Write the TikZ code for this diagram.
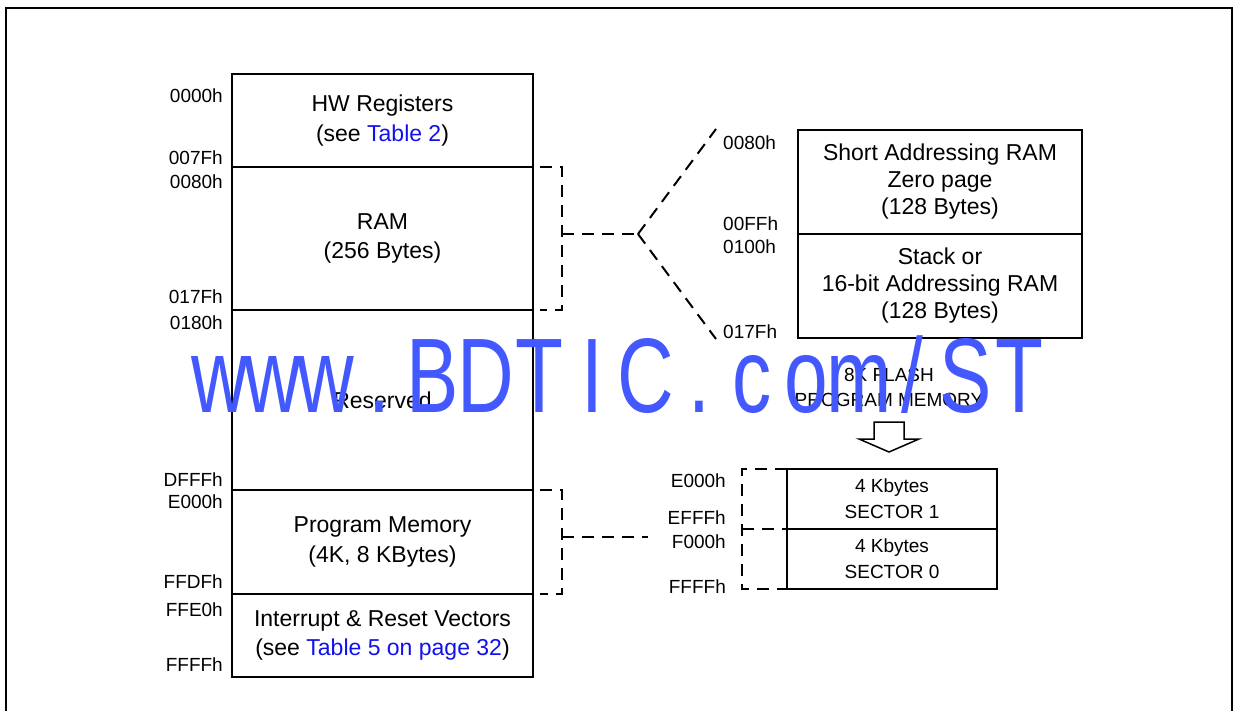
\documentclass[tikz,border=0pt]{standalone}
\usepackage{fontspec}
\setmainfont{Liberation Sans}
\newfontfamily\wmfont{Liberation Sans}
\definecolor{linkblue}{RGB}{17,17,238}
\definecolor{wmblue}{RGB}{68,88,255}
\begin{document}
\begin{tikzpicture}[x=1pt,y=-1pt,
  seg/.style={draw, line width=2.4pt, inner sep=0pt, outer sep=0pt, align=center,
    minimum width=301pt, font=\fontsize{23}{29.5}\selectfont},
  rseg/.style={draw, line width=2.4pt, inner sep=0pt, outer sep=0pt, align=center,
    minimum width=284pt, minimum height=104pt, font=\fontsize{23}{27}\selectfont},
  sseg/.style={draw, line width=2pt, inner sep=0pt, outer sep=0pt, align=center,
    minimum width=210pt, minimum height=60pt, font=\fontsize{19}{26}\selectfont},
  lbl/.style={inner sep=0pt, font=\fontsize{19}{22}\selectfont},
  dline/.style={line width=2pt, dash pattern=on 12pt off 8pt},
  wm/.style={inner sep=0pt, anchor=base, text=wmblue,
    font=\wmfont\fontsize{106}{106}\selectfont},
]
\useasboundingbox (0,0) rectangle (1235,711);
% frame
\draw[line width=2.5pt] (6,730) -- (6,8) -- (1232,8) -- (1232,730);

% main memory map
\node[seg, minimum height=93pt]  (hw)   at (382.5,120.5) {HW Registers\\ (see \textcolor{linkblue}{Table 2})};
\node[seg, minimum height=143pt] (ram)  at (382.5,238.5) {RAM\\(256 Bytes)};
\node[seg, minimum height=180pt] (res)  at (382.5,400)   {Reserved};
\node[seg, minimum height=104pt] (prog) at (382.5,542)   {Program Memory\\(4K, 8 KBytes)};
\node[seg, minimum height=83pt]  (vec)  at (382.5,635.5) {Interrupt \& Reset Vectors\\(see \textcolor{linkblue}{Table 5 on page 32})};

% left address labels
\node[lbl, anchor=east] (a0000) at (223,96)    {0000h};
\node[lbl, anchor=east] (a007F) at (223,158)   {007Fh};
\node[lbl, anchor=east] (a0080) at (223,181.5) {0080h};
\node[lbl, anchor=east] (a017F) at (223,297)   {017Fh};
\node[lbl, anchor=east] (a0180) at (223,322.5) {0180h};
\node[lbl, anchor=east] (aDFFF) at (223,480)   {DFFFh};
\node[lbl, anchor=east] (aE000) at (223,501.5) {E000h};
\node[lbl, anchor=east] (aFFDF) at (223,581.5) {FFDFh};
\node[lbl, anchor=east] (aFFE0) at (223,610)   {FFE0h};
\node[lbl, anchor=east] (aFFFF) at (223,665)   {FFFFh};

% RAM detail
\node[rseg] (zp)  at (940,182) {Short Addressing RAM\\Zero page\\(128 Bytes)};
\node[rseg] (stk) at (940,286) {Stack or\\16-bit Addressing RAM\\(128 Bytes)};
\node[lbl, anchor=west] (r0080) at (723,143)   {0080h};
\node[lbl, anchor=west] (r00FF) at (723,223.5) {00FFh};
\node[lbl, anchor=west] (r0100) at (723,246.5) {0100h};
\node[lbl, anchor=west] (r017F) at (723,331.5) {017Fh};

% flash detail
\node[lbl, align=center, font=\fontsize{19}{25}\selectfont] (flash) at (889,387) {8K FLASH\\PROGRAM MEMORY};
\draw[line width=1.5pt, fill=white] (874,422) -- (904,422) -- (904,439) -- (919,439)
  -- (889,452) -- (859,439) -- (874,439) -- cycle;
\node[sseg] (s1) at (892,499) {4 Kbytes\\SECTOR 1};
\node[sseg] (s0) at (892,559) {4 Kbytes\\SECTOR 0};
\node[lbl, anchor=east] (fE000) at (726,481)   {E000h};
\node[lbl, anchor=east] (fEFFF) at (726,518)   {EFFFh};
\node[lbl, anchor=east] (fF000) at (726,541.5) {F000h};
\node[lbl, anchor=east] (fFFFF) at (726,586.5) {FFFFh};

% dashed brackets
\coordinate (ramfork) at (562,234);
\coordinate (fork) at (638,234);
\coordinate (forkup) at (716,129);
\coordinate (forkdn) at (716,339);
\draw[dline] ([xshift=7pt]ram.north east) -- ++(22,0) -- ++(0,143) -- ++(-22,0);
\draw[dline] (ramfork) -- (fork);
\draw[dline] (fork) -- (forkup);
\draw[dline] (fork) -- (forkdn);

\coordinate (progfork) at (562,537);
\coordinate (progend) at (648,537);
\draw[dline] ([xshift=7pt]prog.north east) -- ++(22,0) -- ++(0,104) -- ++(-22,0);
\draw[dline] (progfork) -- (progend);

\draw[dline] (s1.north west) -- ++(-45,0) -- ++(0,120) -- ++(45,0);
\draw[dline] ([xshift=-45pt]s1.south west) -- (s1.south west);

% watermark
\foreach \ch [count=\i from 0] in {w,w,w,.,B,D,T,I,C,.,c,o,m,/,S,T} {
  \node[wm] (wm\i) at ({219.6+53.3*\i},413) {\scalebox{0.74}[1]{\ch}};
}
\end{tikzpicture}
\end{document}
